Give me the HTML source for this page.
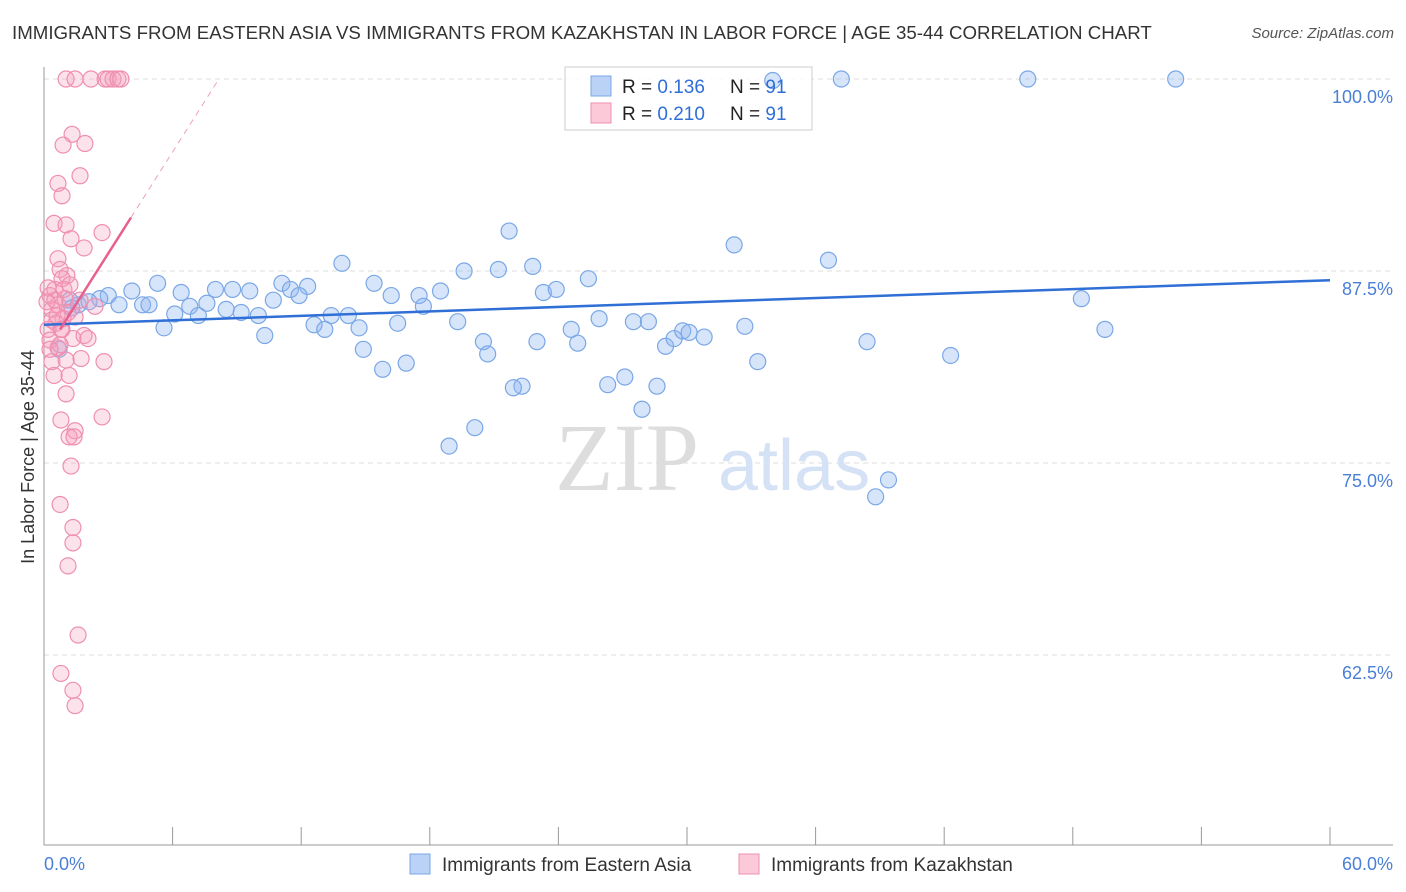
<!DOCTYPE html>
<html><head><meta charset="utf-8">
<style>
body{margin:0;background:#fff;font-family:"Liberation Sans",sans-serif;}
#wrap{position:relative;width:1406px;height:892px;overflow:hidden;}
.t{position:absolute;white-space:nowrap;}
</style></head>
<body>
<div id="wrap">
<div class="t" style="left:12px;top:22px;font-size:18.7px;color:#333;">IMMIGRANTS FROM EASTERN ASIA VS IMMIGRANTS FROM KAZAKHSTAN IN LABOR FORCE | AGE 35-44 CORRELATION CHART</div>
<div class="t" style="right:12px;top:25px;font-size:15px;color:#555;font-style:italic;">Source: ZipAtlas.com</div>
<svg id="chart" width="1406" height="892" style="position:absolute;left:0;top:0"></svg>
</div>
<script>
const xTicks=[0,6,12,18,24,30,36,42,48,54,60];
const yTicks=[100,87.5,75,62.5];
const yTickLabels=["100.0%","87.5%","75.0%","62.5%"];
const blueX=[34.0,37.2,45.9,52.8,21.7,32.2,36.6,13.9,19.6,21.2,22.8,25.4,5.3,11.1,12.3,15.4,4.1,6.4,8.0,8.8,9.6,11.5,11.9,16.2,17.5,18.5,23.3,23.9,48.4,3.0,2.6,3.5,4.6,4.9,7.6,6.8,8.5,9.2,10.0,6.1,7.2,10.7,17.7,13.4,14.2,12.6,13.1,14.7,16.5,19.3,25.9,27.5,28.2,24.6,32.7,49.5,5.6,10.3,20.5,23.0,24.9,29.0,29.4,29.8,30.1,30.8,38.4,20.7,14.9,42.3,33.3,16.9,15.8,27.1,26.3,28.6,22.3,21.9,27.9,20.1,18.9,39.4,38.8,1.2,1.6,2.1,0.7,1.3];
const blueY=[99.9,100,100,100,90.1,89.2,88.2,88.0,87.5,87.6,87.8,87.0,86.7,86.7,86.5,86.7,86.2,86.1,86.3,86.3,86.2,86.3,85.9,85.9,85.9,86.2,86.1,86.3,85.7,85.9,85.7,85.3,85.3,85.3,85.4,85.2,85.0,84.8,84.6,84.7,84.6,85.6,85.2,84.6,84.6,84.0,83.7,83.8,84.1,84.2,84.4,84.2,84.2,83.7,83.9,83.7,83.8,83.3,82.9,82.9,82.8,82.6,83.1,83.6,83.5,83.2,82.9,82.1,82.4,82.0,81.6,81.5,81.1,80.6,80.1,80.0,80.0,79.9,78.5,77.3,76.1,73.9,72.8,85.6,85.3,85.5,82.4,85.1];
const pinkX=[1.03,1.45,2.19,2.85,2.99,3.22,3.45,3.59,1.31,0.89,1.91,0.65,1.68,0.84,2.71,0.47,1.03,1.26,1.87,0.65,1.07,0.75,0.84,0.51,0.28,0.19,0.98,0.65,0.37,1.12,0.89,0.56,0.79,1.45,2.38,0.19,0.28,0.65,0.37,1.35,1.87,2.05,1.73,2.80,1.17,1.03,0.79,2.71,1.45,1.17,1.40,1.26,0.75,1.35,1.35,1.12,1.59,0.79,1.35,1.45,0.47,0.75,0.37,0.51,0.93,1.21,0.14,0.61,0.84,0.28,1.03,1.68];
const pinkY=[100,100,100,100,100,100,100,100,96.4,95.7,95.8,93.2,93.7,92.4,90.0,90.6,90.5,89.6,89.0,88.3,87.2,87.6,87.0,86.3,85.9,86.4,85.7,85.3,85.0,84.8,84.4,84.1,83.7,84.5,85.2,83.7,83.0,82.5,81.6,83.1,83.3,83.1,81.8,81.6,80.7,79.5,77.8,78.0,77.1,76.7,76.7,74.8,72.3,70.8,69.8,68.3,63.8,61.3,60.2,59.2,80.7,82.7,84.3,85.6,86.3,86.6,85.5,84.6,83.7,82.4,81.7,85.6];
const blueTrend=[84.0,86.9];   // y at x=0 and x=60
const pinkTrend=[82.05,2.2];  // intercept, slope per %

const NS="http://www.w3.org/2000/svg";
const svg=document.getElementById('chart');
const X0=44,X1=1330,Y100=79,PX125=192;
const xs=v=>X0+(v/60)*(X1-X0);
const ys=v=>Y100+(100-v)/12.5*PX125;
function el(tag,attrs,parent){const e=document.createElementNS(NS,tag);for(const k in attrs)e.setAttribute(k,attrs[k]);(parent||svg).appendChild(e);return e;}

yTicks.forEach((t,i)=>{
  const g=el('line',{x1:X0,x2:1393,y1:ys(t),y2:ys(t),stroke:'#ddd','stroke-dasharray':'5,4'});
  
  
  const tx=el('text',{x:1393,y:ys(t)+24,'text-anchor':'end','font-size':18,fill:'#4a7fd6','font-family':'Liberation Sans, sans-serif'});
  tx.textContent=yTickLabels[i];
  
  
});
const ax=el('line',{x1:X0,x2:X0,y1:67,y2:845,stroke:'#999'});


const bx=el('line',{x1:X0,x2:1393,y1:845,y2:845,stroke:'#999'});


xTicks.forEach(t=>{
  const l=el('line',{x1:xs(t),x2:xs(t),y1:827,y2:845,stroke:'#999'});
  
  
});
[[0,'0.0%','start',44],[60,'60.0%','end',1393]].forEach(a=>{
  const tx=el('text',{x:a[3],y:870,'text-anchor':a[2],'font-size':18,fill:'#4a7fd6','font-family':'Liberation Sans, sans-serif'});
  tx.textContent=a[1];
  
  
});
const yt=el('text',{x:0,y:0,transform:'translate(34,457) rotate(-90)','text-anchor':'middle','font-size':18,fill:'#333','font-family':'Liberation Sans, sans-serif'});
yt.textContent='In Labor Force | Age 35-44';



const wm=el('text',{x:555,y:490,'font-size':96,fill:'#ddd','font-family':'Liberation Serif, serif'});
wm.textContent='ZIP';


const wm2=el('text',{x:718,y:490,'font-size':72,fill:'#d5e2f5','font-family':'Liberation Sans, sans-serif'});
wm2.textContent='atlas';



// top legend (semi-transparent, drawn beneath points)
const lg=el('rect',{x:565,y:67,width:247,height:63,fill:'#fff','fill-opacity':0.85,stroke:'#ccc'});



blueX.forEach((x,i)=>{
  const c=el('circle',{cx:xs(x),cy:ys(blueY[i]),r:8,fill:'rgba(140,180,240,0.35)',stroke:'#7aa7e6','stroke-width':1.2});
  
  
});
pinkX.forEach((x,i)=>{
  const c=el('circle',{cx:xs(x),cy:ys(pinkY[i]),r:8,fill:'rgba(245,160,190,0.3)',stroke:'#ef8fb0','stroke-width':1.2});
  
  
});
const bl=el('line',{x1:xs(0),y1:ys(blueTrend[0]),x2:xs(60),y2:ys(blueTrend[1]),stroke:'#2f6fd6','stroke-width':2.5});


const pf=v=>pinkTrend[0]+pinkTrend[1]*v;
const pl=el('line',{x1:xs(0.75),y1:ys(pf(0.75)),x2:xs(4.06),y2:ys(pf(4.06)),stroke:'#e8608c','stroke-width':2.5});


const pd=el('line',{x1:xs(4.06),y1:ys(pf(4.06)),x2:xs(8.1),y2:ys(pf(8.1)),stroke:'#f0a0bb','stroke-width':1,'stroke-dasharray':'6,5'});



[[0,'#b9d2f5','#7aa7e6','0.136'],[1,'#fcc9d8','#ef8fb0','0.210']].forEach(r=>{
  const y=76+r[0]*27;
  const s=el('rect',{x:591,y:y,width:20,height:20,fill:r[1],stroke:r[2]});
  
  
  const t=el('text',{x:622,y:y+17,'font-size':19,fill:'#222','font-family':'Liberation Sans, sans-serif'});
  t.innerHTML='R = <tspan fill="#2f6fd6">'+r[3]+'</tspan><tspan x="730">N = </tspan><tspan fill="#2f6fd6">91</tspan>';
  
  
});
[[410,'#b9d2f5','#7aa7e6','Immigrants from Eastern Asia'],[739,'#fcc9d8','#ef8fb0','Immigrants from Kazakhstan']].forEach(r=>{
  const s=el('rect',{x:r[0],y:854,width:20,height:20,fill:r[1],stroke:r[2]});
  
  
  const t=el('text',{x:r[0]+32,y:871,'font-size':19,fill:'#333','font-family':'Liberation Sans, sans-serif'});
  t.textContent=r[3];
  
  
});
</script>
</body></html>
